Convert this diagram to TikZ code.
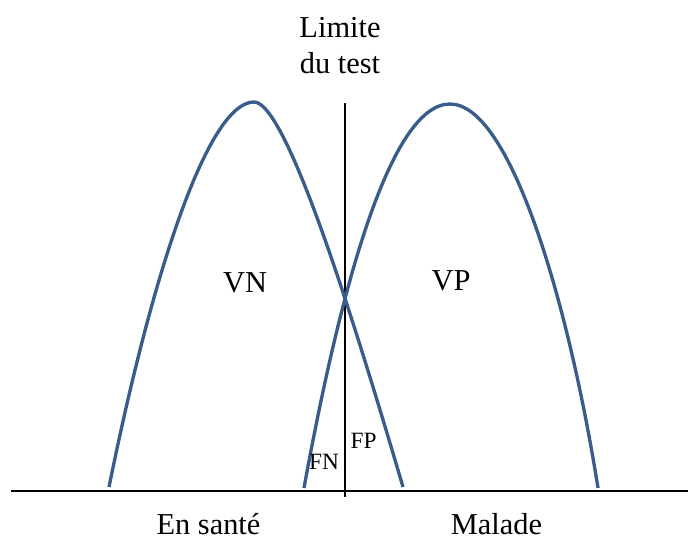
\documentclass[tikz,border=0pt]{standalone}
\usepackage{fontspec}
\setmainfont{Liberation Serif}
\usepackage{xcolor}
\usepackage{tikz}
\usetikzlibrary{positioning,calc}

\definecolor{courbe}{RGB}{56,93,138}

\begin{document}
\begin{tikzpicture}[x=0.02cm, y=-0.02cm,
    grand/.style={font=\fontsize{17.3}{21}\selectfont, inner sep=0pt, anchor=base},
    petit/.style={font=\fontsize{13.3}{16}\selectfont, inner sep=0pt, anchor=base},
    distrib/.style={courbe, line width=1.9pt}]
    \useasboundingbox (0,0) rectangle (688,538);

    % axe et limite du test
    \draw[line width=1.4pt] (11,491) -- (688,491);
    \draw[line width=1.1pt] (345,103) -- (345,497);

    % les deux distributions
    \draw[distrib] (109,487) .. controls (155,260) and (210,102) .. (254,102)
                             .. controls (285,102) and (348,300) .. (403,487);
    \draw[distrib] (304,488) .. controls (340,290) and (390,104) .. (450,104)
                             .. controls (510,104) and (568,300) .. (598,488);

    \node[grand] (limite) at (340,37) {Limite};
    \node[grand] (dutest) at (340,73) {du test};

    \node[grand] (vn) at (245,292) {VN};
    \node[grand] (vp) at (451,290) {VP};
    \node[petit] (fn) at (324,469) {FN};
    \node[petit] (fp) at (363.5,448) {FP};

    \node[grand] (sante) at (208.5,534) {En santé};
    \node[grand] (malade) at (496.5,534) {Malade};
\end{tikzpicture}
\end{document}
